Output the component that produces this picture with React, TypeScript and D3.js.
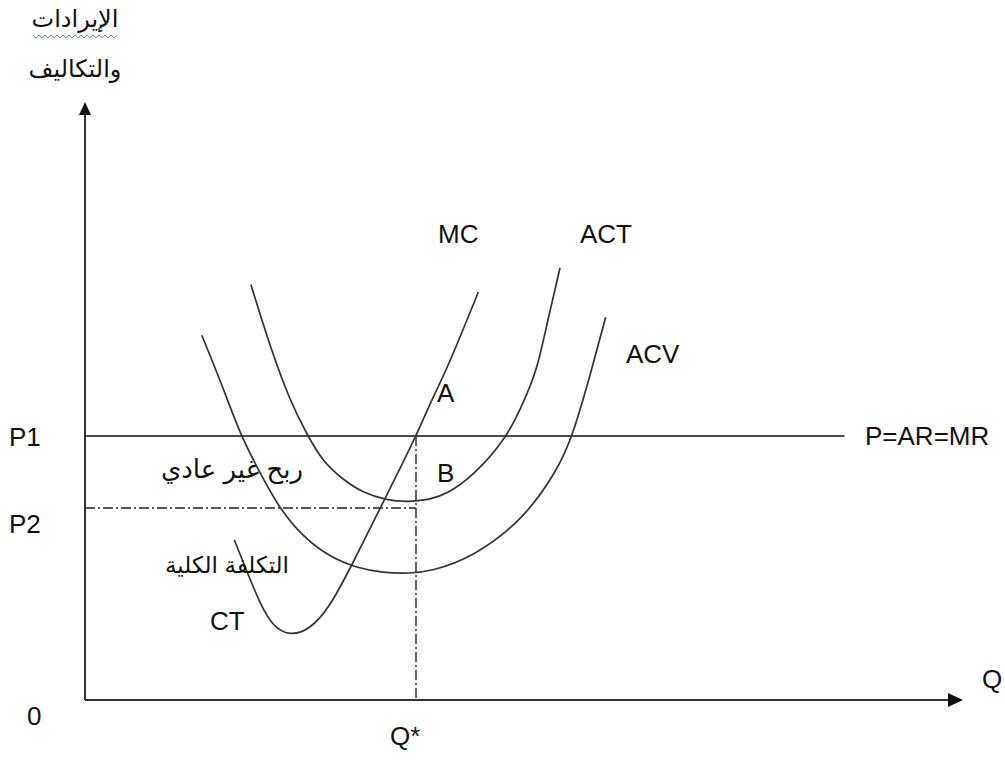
import React from "react";
import * as d3 from "d3";

// Data (Q, cost)
const mcCurve: [number, number][] = [
  [17.0, 26.7], [18.5, 21.2], [19.9, 16.2], [21.4, 12.2], [23.3, 10.7],
  [25.6, 11.7], [27.9, 15.5], [30.5, 22.8], [33.9, 32.8], [37.8, 44.2],
  [39.3, 49.5], [41.2, 55.0], [44.8, 68.0],
];
const actCurve: [number, number][] = [
  [18.9, 69.2], [21.1, 58.8], [23.3, 50.0], [25.3, 44.2], [27.1, 39.7],
  [29.4, 36.7], [31.7, 34.5], [34.4, 33.3], [36.7, 33.0], [39.3, 33.4],
  [41.2, 34.3], [44.2, 37.3], [48.1, 43.8], [49.9, 49.5], [51.5, 55.0],
  [52.7, 63.3], [54.1, 72.0],
];
const acvCurve: [number, number][] = [
  [13.3, 60.8], [15.4, 53.3], [17.7, 44.2], [19.6, 38.8], [22.0, 32.2],
  [24.8, 27.2], [27.9, 23.8], [31.0, 22.0], [33.9, 21.2], [37.0, 21.1],
  [39.3, 21.4], [44.2, 23.8], [49.9, 30.0], [53.8, 38.3], [55.5, 43.8],
  [57.7, 55.0], [59.3, 63.8],
];
const P1 = 44;
const P2 = 32;
const QSTAR = 37.7;
const PRICE_LINE_END = 86.5;
const curveLabels = ["MC", "ACT", "ACV"];
const yTitle = ["الإيرادات", "والتكاليف"];
const profitLabel = "ربح غير عادي";
const totalCostLabel = "التكلفة الكلية";

const W = 1005;
const H = 760;

export default function App() {
  const x = d3.scaleLinear().domain([0, 100]).range([85, 963]);
  const y = d3.scaleLinear().domain([0, 100]).range([700, 100]);
  const line = d3
    .line<[number, number]>()
    .x((d) => x(d[0]))
    .y((d) => y(d[1]))
    .curve(d3.curveBasis);

  const font = "'Liberation Sans', Arial, 'DejaVu Sans', sans-serif";
  const fs = 26;
  const dash = "10,3,2,3";
  const stroke = "#333";

  // spell-check squiggle under the first title word
  const squiggle: string[] = [];
  for (let i = 0; i <= 28; i++) {
    const px = 33 + i * 3;
    const py = i % 2 === 0 ? 35 : 38;
    squiggle.push(`${i === 0 ? "M" : "L"}${px},${py}`);
  }

  return (
    <svg
      width={W}
      height={H}
      style={{ position: "absolute", left: 0, top: 0, background: "#fff" }}
      fontFamily={font}
    >
      {/* axes */}
      <line x1={x(0)} y1={y(0)} x2={x(0)} y2={y(100) + 14} stroke="#333" strokeWidth={2} />
      <line x1={x(0)} y1={y(0)} x2={x(100) - 14} y2={y(0)} stroke="#333" strokeWidth={2} />
      <path
        d={`M${x(0)},${y(100) + 2} L${x(0) - 6},${y(100) + 15} L${x(0) + 6},${y(100) + 15} Z`}
        fill="#111"
      />
      <path
        d={`M${x(100)},${y(0)} L${x(100) - 15},${y(0) - 7} L${x(100) - 15},${y(0) + 7} Z`}
        fill="#111"
      />

      {/* price line */}
      <line x1={x(0)} y1={y(P1)} x2={x(PRICE_LINE_END)} y2={y(P1)} stroke="#111" strokeWidth={1.6} />
      {/* dash-dot guides */}
      <line x1={x(0)} y1={y(P2)} x2={x(QSTAR)} y2={y(P2)} stroke="#222" strokeWidth={1.4} strokeDasharray={dash} />
      <line x1={x(QSTAR)} y1={y(P1)} x2={x(QSTAR)} y2={y(0)} stroke="#222" strokeWidth={1.4} strokeDasharray={dash} />

      {/* curves */}
      <path d={line(mcCurve) || ""} fill="none" stroke={stroke} strokeWidth={1.7} />
      <path d={line(actCurve) || ""} fill="none" stroke={stroke} strokeWidth={1.7} />
      <path d={line(acvCurve) || ""} fill="none" stroke={stroke} strokeWidth={1.7} />

      {/* labels */}
      <g fontSize={fs} fill="#111">
        <text x={438} y={243}>{curveLabels[0]}</text>
        <text x={580} y={243}>{curveLabels[1]}</text>
        <text x={626} y={363}>{curveLabels[2]}</text>
        <text x={437} y={402}>A</text>
        <text x={437} y={482}>B</text>
        <text x={865} y={445}>P=AR=MR</text>
        <text x={9} y={446}>P1</text>
        <text x={9} y={533}>P2</text>
        <text x={27} y={725}>0</text>
        <text x={982} y={688}>Q</text>
        <text x={390} y={745}>Q*</text>
        <text x={210} y={630}>CT</text>
      </g>

      {/* Arabic texts */}
      <g fill="#111" fontFamily={font}>
        <text x={75} y={27} fontSize={24} textAnchor="middle" direction="rtl">{yTitle[0]}</text>
        <text x={75} y={77} fontSize={24} textAnchor="middle" direction="rtl">{yTitle[1]}</text>
        <text x={232} y={478} fontSize={26} textAnchor="middle" direction="rtl">{profitLabel}</text>
        <text x={227} y={573} fontSize={23} textAnchor="middle" direction="rtl">{totalCostLabel}</text>
      </g>
      <path d={squiggle.join(" ")} fill="none" stroke="#4caf50" strokeWidth={1} />
    </svg>
  );
}
